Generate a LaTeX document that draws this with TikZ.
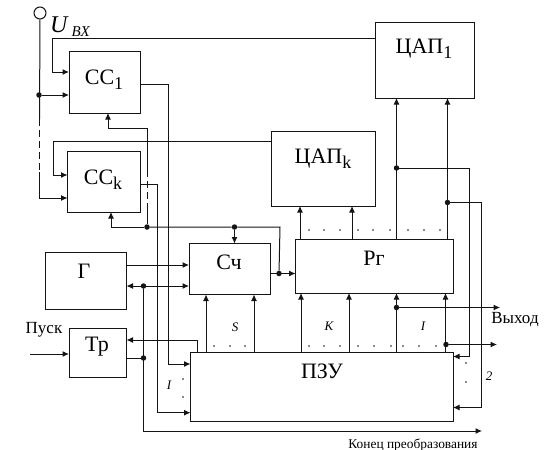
\documentclass[tikz,border=0pt]{standalone}
\usepackage{fontspec}
\setmainfont{Liberation Serif}
\usetikzlibrary{arrows.meta}
\definecolor{ligne}{RGB}{20,20,20}
\newcommand{\bas}[1]{{\fontsize{18}{20}\selectfont\raisebox{-5pt}{#1}}}
\tikzset{
  bloc/.style={draw=ligne,line width=1pt,inner sep=0pt,outer sep=0pt},
  titre/.style={inner sep=0pt,font=\fontsize{22}{26}\selectfont},
  rep/.style={inner sep=0pt,font=\fontsize{13}{15}\selectfont\itshape},
  jonc/.style={circle,fill=ligne,inner sep=0pt,minimum size=5.5pt},
  fil/.style={draw=ligne,line width=1pt},
  fl/.style={fil,-{Latex[length=6.5pt,width=6pt]}}
}
\begin{document}
\begin{tikzpicture}[x=1pt,y=-1pt]
\useasboundingbox (0,0) rectangle (555,450);
\node [bloc,minimum width=71.5pt,minimum height=61.5pt] (ccun) at (104.75,82.25) {};
\node [bloc,minimum width=73pt,minimum height=60.5pt] (cck) at (104,181.75) {};
\node [bloc,minimum width=98.5pt,minimum height=76pt] (capun) at (424.75,60) {};
\node [bloc,minimum width=104.5pt,minimum height=74.5pt] (capk) at (323.25,168.75) {};
\node [bloc,minimum width=81.5pt,minimum height=57pt] (gen) at (85.75,280.5) {};
\node [bloc,minimum width=81.5pt,minimum height=51pt] (cpt) at (229.75,269) {};
\node [bloc,minimum width=157.5pt,minimum height=54pt] (reg) at (374.25,266) {};
\node [bloc,minimum width=57.5pt,minimum height=49pt] (trig) at (97.75,352.5) {};
\node [bloc,minimum width=262.5pt,minimum height=69pt] (pzu) at (321.75,386.5) {};
\node [titre] (tcc) at (104,80) {CC\bas{1}};
\node [titre] (tk) at (103,180) {CC\bas{k}};
\node [titre] (tcap) at (424,49) {ЦАП\bas{1}};
\node [titre] (tkap) at (323,159) {ЦАП\bas{k}};
\node [titre] (tg) at (84,271) {Г};
\node [titre] (tsc) at (229,262) {Сч};
\node [titre] (trg) at (374,258) {Рг};
\node [titre] (ttr) at (97,347) {Тр};
\node [titre] (tpzu) at (322,371) {ПЗУ};
\node [inner sep=0pt] (uin) at (70,27) {\fontsize{24}{26}\selectfont\itshape U\,\fontsize{15}{17}\selectfont\raisebox{-4pt}{BX}};
\node [inner sep=0pt,font=\fontsize{17}{19}\selectfont] (pusk) at (44,330) {Пуск};
\node [inner sep=0pt,font=\fontsize{17}{19}\selectfont] (vyh) at (515,320) {Выход};
\node [inner sep=0pt,font=\fontsize{13.4}{15}\selectfont] (kon) at (413,445) {Конец преобразования};
\node [rep] (ls) at (235,327) {S};
\node [rep] (lk) at (329,326) {K};
\node [rep] (li) at (423,326) {I};
\node [rep] (lj) at (169,385) {I};
\node [rep] (ld) at (489,376) {2};
\node [circle,draw=ligne,line width=1pt,fill=white,inner sep=0pt,minimum size=12pt] (ent) at (40,13) {};
\node [jonc] (jent) at (39,95) {};
\node [jonc] (jcc) at (147,227) {};
\node [jonc] (jsc) at (234.5,227) {};
\node [jonc] (jrg) at (279,273.5) {};
\node [jonc] (jgen) at (143.5,286) {};
\node [jonc] (jtr) at (143.5,358) {};
\node [jonc] (jcap) at (396.5,168) {};
\node [jonc] (jcab) at (447.5,202.5) {};
\node [jonc] (jvyh) at (396.5,307.5) {};
\node [jonc] (jvy2) at (446,344.5) {};
\coordinate (dha) at (39.5,119);
\coordinate (dba) at (39.5,172);
\coordinate (cha) at (147,170);
\coordinate (cba) at (147,205);
\coordinate (sor1) at (497,344.5);
\coordinate (sor2) at (500,307.5);
\coordinate (sor3) at (482,431);
\coordinate (pdep) at (30,354);
% entree
\draw [fil] (ent.south) -- (dha);
\draw [fil,dash pattern=on 7pt off 4pt] (dha) -- (dba);
\draw [fl] (dba) |- (cck.west |- 0,198);
\draw [fl] (jent) -- (ccun.west |- jent);
\draw [fl] (capun.west |- 0,38.7) -| (52,72) -- (ccun.west |- 0,72);
\draw [fl] (capk.west |- 0,141.5) -| (53.5,175) -- (cck.west |- 0,175);
% vers pzu
\draw [fl] (ccun.east |- 0,84) -| (168,364) -- (pzu.west |- 0,364);
\draw [fl] (cck.east |- 0,184) -| (157,412.7) -- (pzu.west |- 0,412.7);
\draw [fl] (cha) -- (147,128) -| (108,113);
\draw [fil,dash pattern=on 7pt off 4pt] (cha) -- (cba);
\draw [fil] (cba) -- (jcc);
\draw [fl] (jcc) -| (111,212);
\draw [fil] (jcc) -- (jsc) -- (280,227) -- (jrg);
\draw [fl] (jsc) -- (jsc |- cpt.north);
\draw [fl] (cpt.east |- jrg) -- (reg.west |- jrg);
\draw [fl] (gen.east |- 0,265) -- (cpt.west |- 0,265);
\draw [fl] (jgen) -- (cpt.west |- jgen);
\draw [fl] (jgen) -- (gen.east |- jgen);
\draw [fl] (jgen) |- (sor3);
\draw [fil] (trig.east |- jtr) -- (jtr);
\draw [fl] (pdep) -- (trig.west |- pdep);
\draw [fl] (pzu.north -| 197,0) |- (trig.east |- 0,340);
% pzu vers cpt et reg
\foreach \x in {206,254} \draw [fl] (pzu.north -| \x,0) -- (cpt.south -| \x,0);
\foreach \x in {301,349,396.5,445.5} \draw [fl] (pzu.north -| \x,0) -- (reg.south -| \x,0);
\draw [fl] (jvyh) -- (sor2);
\draw [fl] (jvy2) -- (sor1);
% reg vers cap
\foreach \x in {300,352} \draw [fl] (reg.north -| \x,0) -- (capk.south -| \x,0);
\foreach \x in {396.5,447.5} \draw [fl] (reg.north -| \x,0) -- (capun.south -| \x,0);
\draw [fl] (jcap) -| (469,356.5) -- (pzu.east |- 0,356.5);
\draw [fl] (jcab) -| (481,407.5) -- (pzu.east |- 0,407.5);
% points
\foreach \x in {214,230,245,309,324,340,358,374,391,403,419,436} \fill [ligne] (\x,346) circle (0.9);
\foreach \x in {309,324,340,358,373,390,408,424,440} \fill [ligne] (\x,230) circle (0.9);
\foreach \y in {379,397} \fill [ligne] (183,\y) circle (0.9);
\foreach \y in {363,382} \fill [ligne] (466,\y) circle (0.9);
\end{tikzpicture}
\end{document}
